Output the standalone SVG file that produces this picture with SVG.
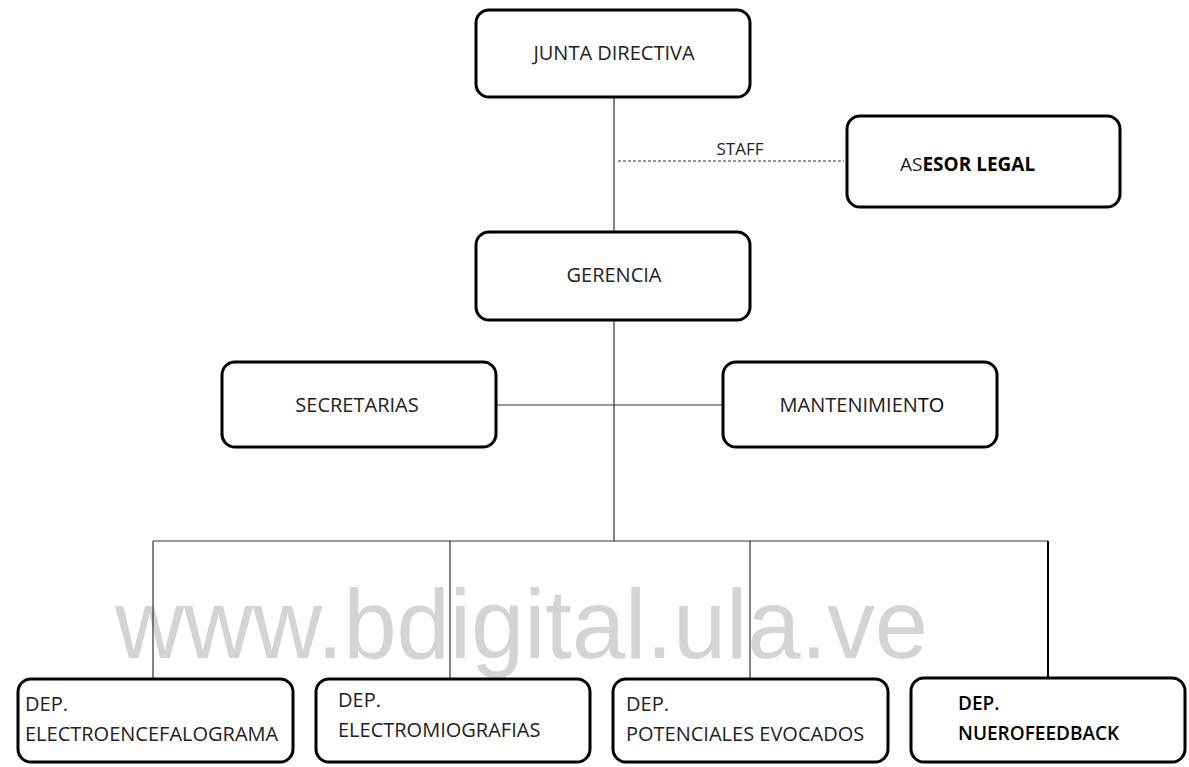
<svg xmlns="http://www.w3.org/2000/svg" width="1189" height="767" viewBox="0 0 1189 767">
<style>
.box{fill:#fff;stroke:#000;stroke-width:3}
.t{font-family:"Open Sans","Liberation Sans",sans-serif;font-size:20px;fill:#222}
.c{text-anchor:middle}
.b{font-weight:bold;fill:#000}
.ln{stroke:#333;stroke-width:1.2;fill:none}
.wm{font-family:"Liberation Sans",Arial,sans-serif;font-size:98px;fill:#d4d4d4}
</style>
<rect width="1189" height="767" fill="#fff"/>
<text class="wm" x="115" y="658" textLength="813" lengthAdjust="spacingAndGlyphs">www.bdigital.ula.ve</text>
<g id="connectors">
<line class="ln" x1="614" y1="98" x2="614" y2="232"/>
<line class="ln" x1="618" y1="161" x2="844" y2="161" stroke-dasharray="3,2"/>
<text class="t c" x="740" y="155" style="font-size:17px">STAFF</text>
<line class="ln" x1="614" y1="321" x2="614" y2="541"/>
<line class="ln" x1="497" y1="405" x2="723" y2="405"/>
<line class="ln" x1="153" y1="541" x2="1048" y2="541"/>
<line class="ln" x1="153" y1="541" x2="153" y2="678"/>
<line class="ln" x1="450" y1="541" x2="450" y2="678"/>
<line class="ln" x1="750" y1="541" x2="750" y2="678"/>
<line class="ln" x1="1048" y1="541" x2="1048" y2="678" style="stroke:#000;stroke-width:2"/>
</g>
<g id="junta">
<rect class="box" x="476" y="10" width="274" height="87" rx="13"/>
<text class="t c" x="614" y="60">JUNTA DIRECTIVA</text>
</g>
<g id="asesor">
<rect class="box" x="847" y="116" width="273" height="91" rx="13"/>
<text class="t" x="900" y="171" style="font-size:19px">AS<tspan class="b">ESOR LEGAL</tspan></text>
</g>
<g id="gerencia">
<rect class="box" x="476" y="232" width="274" height="88" rx="13"/>
<text class="t c" x="614" y="282">GERENCIA</text>
</g>
<g id="secretarias">
<rect class="box" x="222" y="362" width="274" height="85" rx="13"/>
<text class="t c" x="357" y="412">SECRETARIAS</text>
</g>
<g id="mantenimiento">
<rect class="box" x="723" y="362" width="274" height="85" rx="13"/>
<text class="t c" x="862" y="412">MANTENIMIEN<tspan style="fill:#000">TO</tspan></text>
</g>
<g id="dep1">
<rect class="box" x="18" y="679" width="275" height="83" rx="13"/>
<text class="t" x="25" y="711">DEP.</text>
<text class="t" x="25" y="741">ELECTROENCEFALOGRAMA</text>
</g>
<g id="dep2">
<rect class="box" x="316" y="679" width="274" height="83" rx="13"/>
<text class="t" x="338" y="707">DEP.</text>
<text class="t" x="338" y="737">ELECTROMIOGRAFIAS</text>
</g>
<g id="dep3">
<rect class="box" x="613" y="679" width="275" height="83" rx="13"/>
<text class="t" x="626" y="711">DEP.</text>
<text class="t" x="626" y="741">POTENCIALES EVOCADOS</text>
</g>
<g id="dep4">
<rect class="box" x="911" y="678" width="274" height="84" rx="13"/>
<text class="t" x="958" y="710" style="font-weight:600;fill:#000;font-size:19px">DEP.</text>
<text class="t" x="958" y="740" style="font-weight:600;fill:#000;font-size:19px">NUEROFEEDBACK</text>
</g>
</svg>
